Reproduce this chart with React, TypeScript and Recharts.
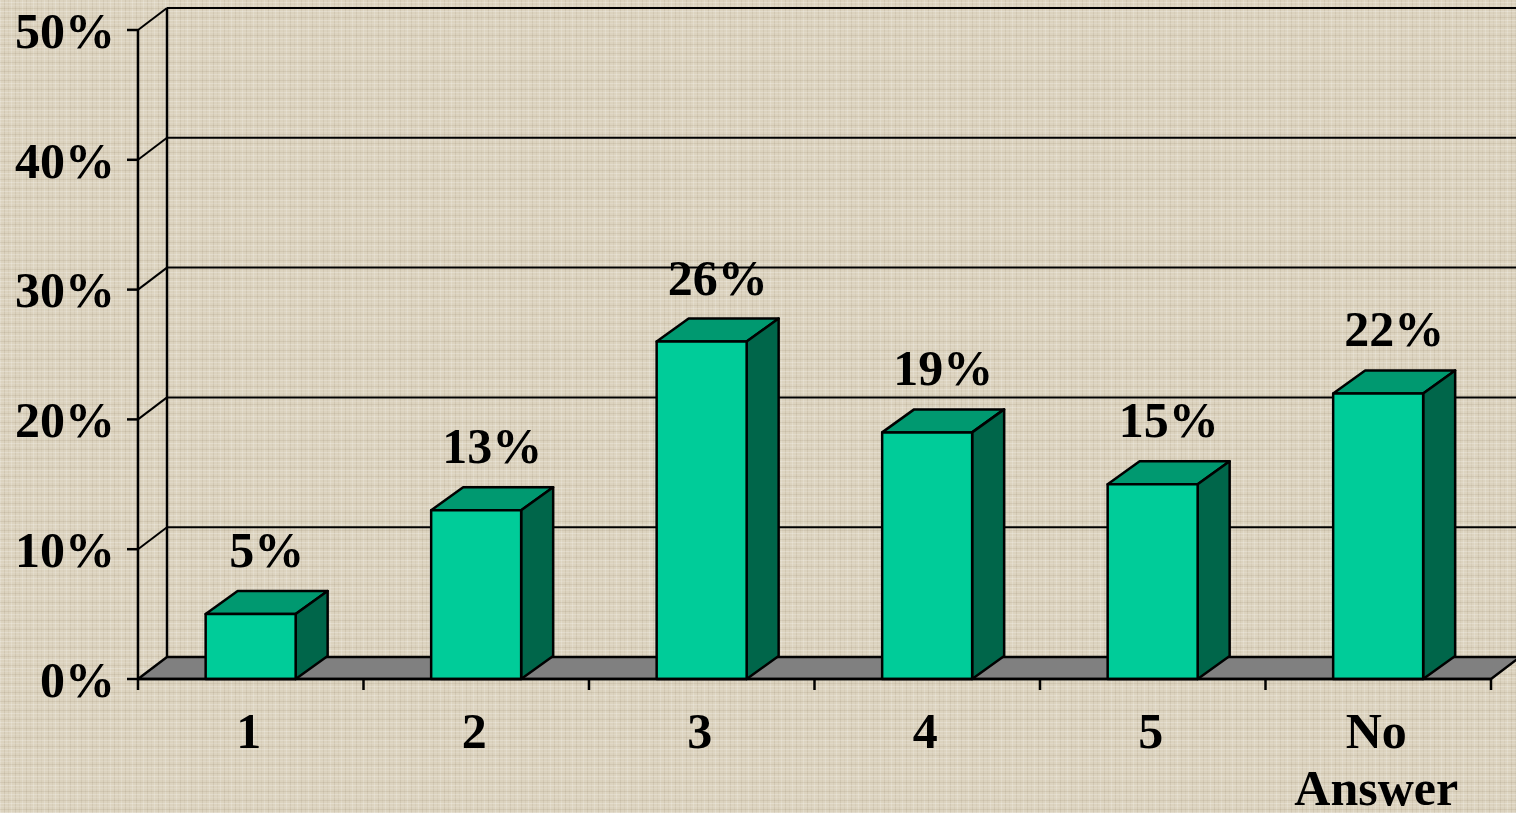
import { BarChart, Bar, XAxis, YAxis, CartesianGrid, LabelList } from 'recharts';

const categories = ['1', '2', '3', '4', '5', 'No Answer'];
const shares = [5, 13, 26, 19, 15, 22];
const yTicks = [0, 10, 20, 30, 40, 50];

const data = categories.map((name, i) => ({ name, value: shares[i] }));

const W = 1516;
const H = 813;
const TOP = 30;
const BOTTOM = 679;
const LEFT = 138;
const RIGHT = 1491;
// depth of the back wall / floor and of the boxes
const FDX = 29;
const FDY = 22;
const BDX = 32;
const BDY = 23;
const HALF_BAND = (RIGHT - LEFT) / categories.length / 2;

const FONT = "'Liberation Serif', 'Times New Roman', serif";
const LINE = '#000';

const textStyle = {
  fontFamily: FONT,
  fontSize: 50,
  fontWeight: 'bold' as const,
  fill: '#000',
};

const BackLine = (p: any) => {
  const { x1, y1, x2 } = p;
  if (Math.abs(y1 - BOTTOM) < 1) {
    return (
      <polygon
        points={`${x1},${y1} ${x1 + FDX},${y1 - FDY} ${x2 + FDX},${y1 - FDY} ${x2},${y1}`}
        fill="#808080"
        stroke={LINE}
        strokeWidth={2.5}
        strokeLinejoin="round"
      />
    );
  }
  return (
    <g>
      <line x1={x1} y1={y1} x2={x1 + FDX} y2={y1 - FDY} stroke={LINE} strokeWidth={2} />
      <line x1={x1 + FDX} y1={y1 - FDY} x2={x2 + FDX} y2={y1 - FDY} stroke={LINE} strokeWidth={2} />
    </g>
  );
};

const BackWall = (p: any) => {
  const { x1, y1, x2, y2 } = p;
  return <line x1={x1 + FDX} y1={y1 - FDY} x2={x2 + FDX} y2={y2 - FDY} stroke={LINE} strokeWidth={2.5} />;
};

const Box3D = (p: any) => {
  const { x, y, width, height } = p;
  if (!height || height <= 0) return null;
  return (
    <g stroke={LINE} strokeWidth={2.5} strokeLinejoin="round">
      <polygon
        points={`${x},${y} ${x + BDX},${y - BDY} ${x + width + BDX},${y - BDY} ${x + width},${y}`}
        fill="#009970"
      />
      <polygon
        points={`${x + width},${y} ${x + width + BDX},${y - BDY} ${x + width + BDX},${y + height - BDY} ${x + width},${y + height}`}
        fill="#00664A"
      />
      <rect x={x} y={y} width={width} height={height} fill="#00CC99" />
    </g>
  );
};

const ValueLabel = (p: any) => {
  const vb = p.viewBox || {};
  const x = p.x ?? vb.x;
  const y = p.y ?? vb.y;
  const width = p.width ?? vb.width;
  if (x == null || y == null) return null;
  return (
    <text x={x + width / 2 + BDX / 2} y={y - BDY - 24} textAnchor="middle" style={textStyle}>
      {`${p.value}%`}
    </text>
  );
};

const CategoryTick = (p: any) => {
  const { x, y, payload, index } = p;
  const lines = String(payload.value).split(' ');
  return (
    <g>
      {index === 0 && (
        <line x1={x - HALF_BAND} y1={y} x2={x - HALF_BAND} y2={y + 11} stroke={LINE} strokeWidth={2.5} />
      )}
      <line x1={x + HALF_BAND} y1={y} x2={x + HALF_BAND} y2={y + 11} stroke={LINE} strokeWidth={2.5} />
      {lines.map((t, i) => (
        <text key={i} x={x - 2} y={y + 69 + i * 57} textAnchor="middle" style={textStyle}>
          {t}
        </text>
      ))}
    </g>
  );
};

const texture = {
  backgroundColor: '#DCD3BF',
  backgroundImage: [
    'repeating-linear-gradient(0deg, rgba(255,255,255,0.22) 0 1px, transparent 1px 3px, rgba(110,90,60,0.10) 3px 4px, transparent 4px 6px, rgba(255,255,255,0.12) 6px 7px, transparent 7px 9px)',
    'repeating-linear-gradient(90deg, rgba(255,255,255,0.18) 0 1px, transparent 1px 4px, rgba(110,90,60,0.10) 4px 5px, transparent 5px 8px, rgba(110,90,60,0.06) 8px 9px, transparent 9px 11px)',
  ].join(', '),
};

export default function App() {
  return (
    <div style={{ width: W, height: H, ...texture }}>
      <style>{'body{margin:0}'}</style>
      <BarChart
        width={W}
        height={H}
        data={data}
        margin={{ top: TOP, right: W - RIGHT, bottom: 0, left: 0 }}
        barCategoryGap="30%"
      >
        <CartesianGrid
          horizontal={BackLine}
          vertical={BackWall}
          verticalPoints={[LEFT]}
          stroke={LINE}
        />
        <XAxis
          dataKey="name"
          height={H - BOTTOM}
          tickSize={0}
          tickMargin={0}
          tickLine={false}
          axisLine={{ stroke: LINE, strokeWidth: 2.5 }}
          tick={<CategoryTick />}
          interval={0}
        />
        <YAxis
          width={LEFT}
          domain={[0, 50]}
          ticks={yTicks}
          tickFormatter={(v) => `${v}%`}
          tickSize={11}
          tickMargin={12}
          axisLine={{ stroke: LINE, strokeWidth: 2.5 }}
          tickLine={{ stroke: LINE, strokeWidth: 2.5 }}
          tick={textStyle}
        />
        <Bar dataKey="value" shape={<Box3D />} isAnimationActive={false}>
          <LabelList dataKey="value" content={<ValueLabel />} />
        </Bar>
      </BarChart>
    </div>
  );
}
